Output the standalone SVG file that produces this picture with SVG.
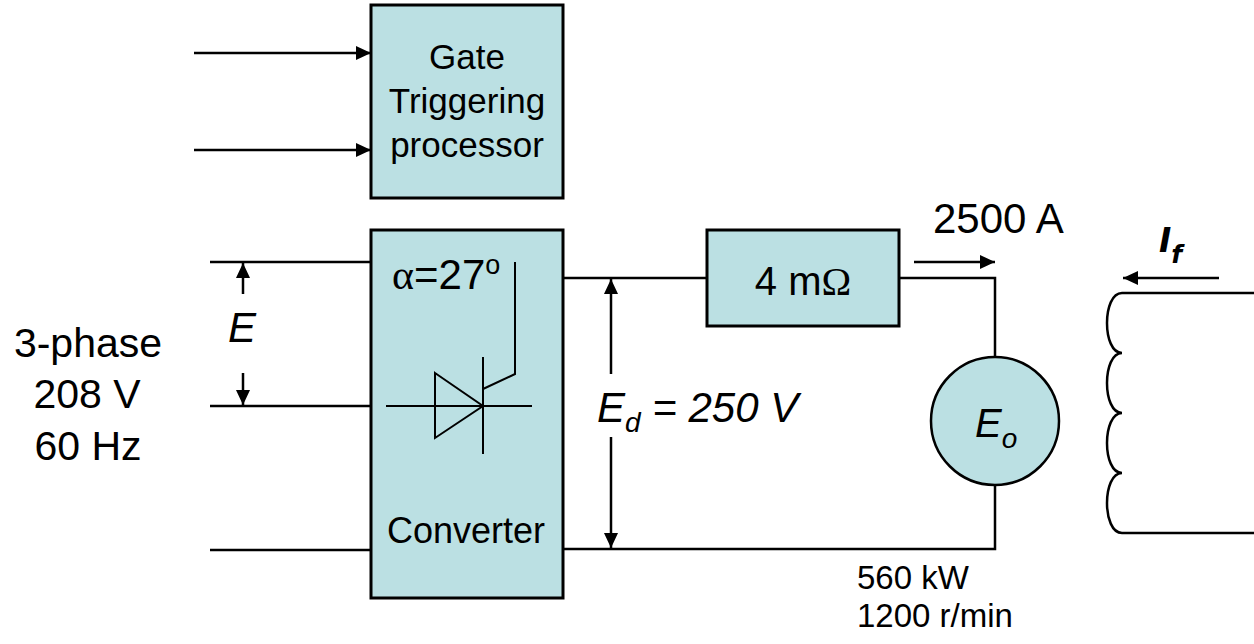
<svg xmlns="http://www.w3.org/2000/svg" width="1254" height="644" viewBox="0 0 1254 644">
<defs>
<marker id="arr" markerUnits="userSpaceOnUse" markerWidth="16" markerHeight="14" refX="15" refY="7" orient="auto">
<path d="M0,0 L15,7 L0,14 z" fill="#000"/>
</marker>
<style>
.box{fill:#BBE0E3;stroke:#000;stroke-width:3}
.w{fill:none;stroke:#000;stroke-width:2.5}
.a{fill:none;stroke:#000;stroke-width:2.5;marker-end:url(#arr)}
.t{font-family:"Liberation Sans",Arial,sans-serif;fill:#000}
.i{font-style:italic}
.s{font-family:"Liberation Serif","Times New Roman",serif}
</style>
</defs>
<rect width="1254" height="644" fill="#fff"/>
<g id="connectors">
<line class="a" x1="194" y1="53" x2="371" y2="53"/>
<line class="a" x1="194" y1="150" x2="371" y2="150"/>
<line class="w" x1="210" y1="262" x2="371" y2="262"/>
<line class="w" x1="210" y1="406" x2="371" y2="406"/>
<line class="w" x1="210" y1="550" x2="371" y2="550"/>
<line class="a" x1="243" y1="294" x2="243" y2="263"/>
<line class="a" x1="243" y1="373" x2="243" y2="405"/>
<line class="w" x1="563" y1="278" x2="707" y2="278"/>
<polyline class="w" points="899,278 995,278 995,357"/>
<polyline class="w" points="563,549 995,549 995,486"/>
<line class="a" x1="611" y1="374" x2="611" y2="279"/>
<line class="a" x1="611" y1="437" x2="611" y2="548"/>
<line class="a" x1="914" y1="262" x2="995" y2="262"/>
<line class="a" x1="1219" y1="278" x2="1123" y2="278"/>
<line class="w" x1="1122" y1="293" x2="1254" y2="293"/>
<line class="w" x1="1122" y1="533" x2="1254" y2="533"/>
</g>
<g id="gate-processor">
<rect class="box" x="371" y="5" width="192" height="193"/>
<text class="t" font-size="35" text-anchor="middle"><tspan x="467" y="69">Gate</tspan><tspan x="467" y="113">Triggering</tspan><tspan x="467" y="157">processor</tspan></text>
</g>
<g id="converter">
<rect class="box" x="371" y="230" width="192" height="368"/>
<text class="t" x="392" y="289" font-size="42"><tspan class="s">α</tspan>=27<tspan font-size="27" dy="-15">o</tspan></text>
<polygon points="435,373 483,406 435,438" fill="none" stroke="#000" stroke-width="2"/>
<line x1="386" y1="406" x2="532" y2="406" stroke="#000" stroke-width="2"/>
<line x1="483" y1="357" x2="483" y2="454" stroke="#000" stroke-width="2"/>
<polyline points="483,389 515,374 515,262" fill="none" stroke="#000" stroke-width="2"/>
<text class="t" x="466" y="543" font-size="36" text-anchor="middle">Converter</text>
</g>
<g id="resistor">
<rect class="box" x="707" y="230" width="192" height="96"/>
<text class="t" x="803" y="295" font-size="40" text-anchor="middle">4 m<tspan class="s">Ω</tspan></text>
</g>
<g id="motor">
<circle cx="995" cy="421" r="64" fill="#BBE0E3" stroke="#000" stroke-width="2.5"/>
<text class="t i" x="975" y="437" font-size="40">E<tspan font-size="28" dy="11">o</tspan></text>
</g>
<g id="field-winding">
<path class="w" d="M1122,293 C1102,293 1102,353 1122,353 C1102,353 1102,413 1122,413 C1102,413 1102,473 1122,473 C1102,473 1102,533 1122,533"/>
<text x="1159" y="252" font-family="DejaVu Sans,sans-serif" font-style="italic" font-weight="bold" font-size="33">I<tspan font-size="25" dy="11">f</tspan></text>
</g>
<g id="labels">
<text class="t" font-size="41" text-anchor="middle"><tspan x="88" y="357">3-phase</tspan><tspan x="87" y="408">208 V</tspan><tspan x="88" y="460">60 Hz</tspan></text>
<text class="t i" x="242" y="342" font-size="42" text-anchor="middle">E</text>
<text class="t i" x="597" y="422" font-size="42">E<tspan font-size="28" dy="10">d</tspan><tspan dy="-10"> = 250 V</tspan></text>
<text class="t" x="933" y="233" font-size="42">2500 A</text>
<text class="t" x="857" y="589" font-size="33">560 kW</text>
<text class="t" x="857" y="627" font-size="33">1200 r/min</text>
</g>
</svg>
